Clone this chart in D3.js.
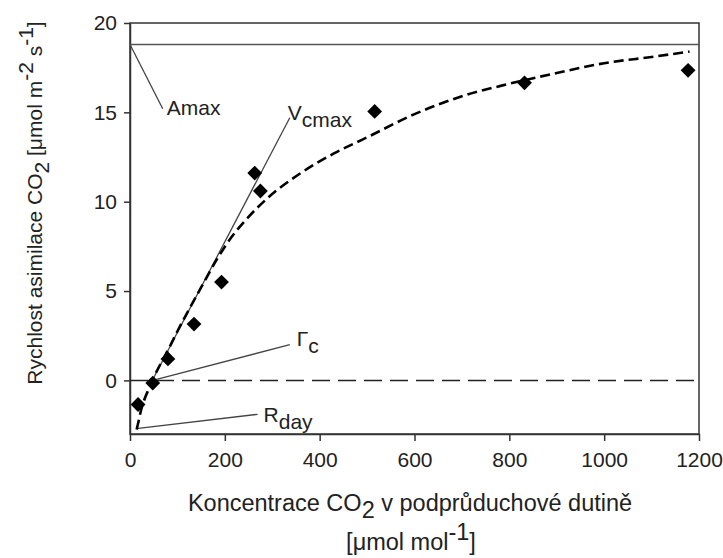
<!DOCTYPE html>
<html>
<head>
<meta charset="utf-8">
<script src="https://cdn.jsdelivr.net/npm/d3@7"></script>
<style>
  body { margin: 0; background: #fff; }
  text { font-family: "Liberation Sans", Arial, sans-serif; fill: #222; }
</style>
</head>
<body>
<div id="chart"></div>
<script>
// measured points
var ciObs = [17, 48, 80, 135, 193, 263, 275, 516, 832, 1177];
var aObs = [-1.35, -0.15, 1.2, 3.15, 5.5, 11.6, 10.6, 15.05, 16.65, 17.35];

// fitted curve
var ciFit = [14, 18, 23, 30, 40, 48, 60, 70, 85, 100, 122, 150, 185, 215, 250, 290, 360, 430, 500, 600, 700, 800, 900, 1000, 1100, 1180];
var aFit = [-2.75, -2.3, -1.7, -1.1, -0.45, 0.05, 0.7, 1.2, 1.95, 2.75, 3.85, 5.2, 6.85, 8.05, 9.15, 10.2, 11.6, 12.7, 13.6, 14.9, 15.9, 16.6, 17.2, 17.75, 18.1, 18.4];

var amax = 18.8;
var xTicks = [0, 200, 400, 600, 800, 1000, 1200];
var yTicks = [0, 5, 10, 15, 20];

// annotation pointer lines [ci, A]
var amaxPtr = [[0, 18.8], [69, 15.2]];
var vcmaxLine = [[45, -0.1], [337, 14.7]];
var gammaPtr = [[48, 0], [337, 2.0]];
var rdayPtr = [[13, -2.7], [269, -1.9]];

var width = 723, height = 558;
var margin = {top: 23, right: 24, bottom: 124, left: 130};

var svg = d3.select("#chart").append("svg")
    .attr("width", width)
    .attr("height", height);

var x = d3.scaleLinear().domain([0, 1200]).range([margin.left, width - margin.right]);
var y = d3.scaleLinear().domain([-3, 20]).range([height - margin.bottom, margin.top]);

// frame
svg.append("rect")
    .attr("x", x(0)).attr("y", y(20))
    .attr("width", x(1200) - x(0)).attr("height", y(-3) - y(20))
    .attr("fill", "none").attr("stroke", "#333").attr("stroke-width", 1.5);

var xAxis = svg.append("g")
    .attr("transform", "translate(0," + y(-3) + ")")
    .call(d3.axisBottom(x).tickValues(xTicks).tickFormat(d3.format("d"))
        .tickSize(7).tickSizeOuter(0).tickPadding(11));
var yAxis = svg.append("g")
    .attr("transform", "translate(" + x(0) + ",0)")
    .call(d3.axisLeft(y).tickValues(yTicks).tickSize(6).tickSizeOuter(0).tickPadding(7));

[xAxis, yAxis].forEach(function (g) {
    g.select(".domain").attr("stroke", "#333").attr("stroke-width", 1.5);
    g.selectAll(".tick line").attr("stroke", "#333").attr("stroke-width", 1.5);
    g.selectAll(".tick text").style("font-size", "21px").style("font-family", "Liberation Sans, Arial, sans-serif").attr("fill", "#222");
});

var line = d3.line().x(function (d) { return x(d[0]); }).y(function (d) { return y(d[1]); });

// zero line
svg.append("path")
    .attr("d", line([[0, 0], [1200, 0]]))
    .attr("stroke", "#222").attr("stroke-width", 1.5)
    .attr("stroke-dasharray", "18,8").attr("fill", "none");

// Amax line
svg.append("path")
    .attr("d", line([[0, amax], [1200, amax]]))
    .attr("stroke", "#555").attr("stroke-width", 1.5).attr("fill", "none");

[amaxPtr, vcmaxLine, gammaPtr, rdayPtr].forEach(function (p) {
    svg.append("path")
        .attr("d", line(p))
        .attr("stroke", "#444").attr("stroke-width", 1.3).attr("fill", "none");
});

// fitted curve
var fit = ciFit.map(function (c, i) { return [c, aFit[i]]; });
svg.append("path")
    .attr("d", d3.line().curve(d3.curveMonotoneX)
        .x(function (d) { return x(d[0]); }).y(function (d) { return y(d[1]); })(fit))
    .attr("stroke", "#000").attr("stroke-width", 2.6)
    .attr("stroke-dasharray", "10,5").attr("fill", "none");

// points
var diamond = d3.symbol().type(d3.symbolSquare).size(110);
svg.selectAll(".pt")
    .data(ciObs.map(function (c, i) { return [c, aObs[i]]; }))
    .enter().append("path")
    .attr("class", "pt")
    .attr("d", diamond)
    .attr("transform", function (d) { return "translate(" + x(d[0]) + "," + y(d[1]) + ") rotate(45)"; })
    .attr("fill", "#000");

// annotation labels
function label(px, py, main, sub) {
    var t = svg.append("text").attr("x", px).attr("y", py).style("font-size", "21px");
    t.append("tspan").text(main);
    if (sub) t.append("tspan").attr("dy", 7).text(sub);
}
label(x(amaxPtr[1][0]) + 4, y(amaxPtr[1][1]) + 6, "Amax");
label(x(vcmaxLine[1][0]) - 2, y(vcmaxLine[1][1]) + 2, "V", "cmax");
label(x(gammaPtr[1][0]) + 7, y(gammaPtr[1][1]) + 1, "\u0393", "c");
label(x(rdayPtr[1][0]) + 6, y(rdayPtr[1][1]) + 8, "R", "day");

// axis titles
var xt = svg.append("text")
    .attr("x", 410).attr("y", 511)
    .attr("text-anchor", "middle").style("font-size", "23.5px");
xt.append("tspan").text("Koncentrace CO");
xt.append("tspan").attr("dy", 7).text("2");
xt.append("tspan").attr("dy", -7).text(" v podprůduchové dutině");

var xt2 = svg.append("text")
    .attr("x", 411).attr("y", 550)
    .attr("text-anchor", "middle").style("font-size", "23.5px");
xt2.append("tspan").text("[\u03bcmol mol");
xt2.append("tspan").attr("dy", -10).text("-1");
xt2.append("tspan").attr("dy", 10).text("]");

var yt = svg.append("text")
    .attr("transform", "translate(42,203) rotate(-90)")
    .attr("text-anchor", "middle").style("font-size", "21px");
yt.append("tspan").text("Rychlost asimilace CO");
yt.append("tspan").attr("dy", 7).text("2");
yt.append("tspan").attr("dy", -7).text(" [\u03bcmol m");
yt.append("tspan").attr("dy", -9).text("-2");
yt.append("tspan").attr("dy", 9).text(" s");
yt.append("tspan").attr("dy", -9).text("-1");
yt.append("tspan").attr("dy", 9).text("]");
</script>
</body>
</html>
